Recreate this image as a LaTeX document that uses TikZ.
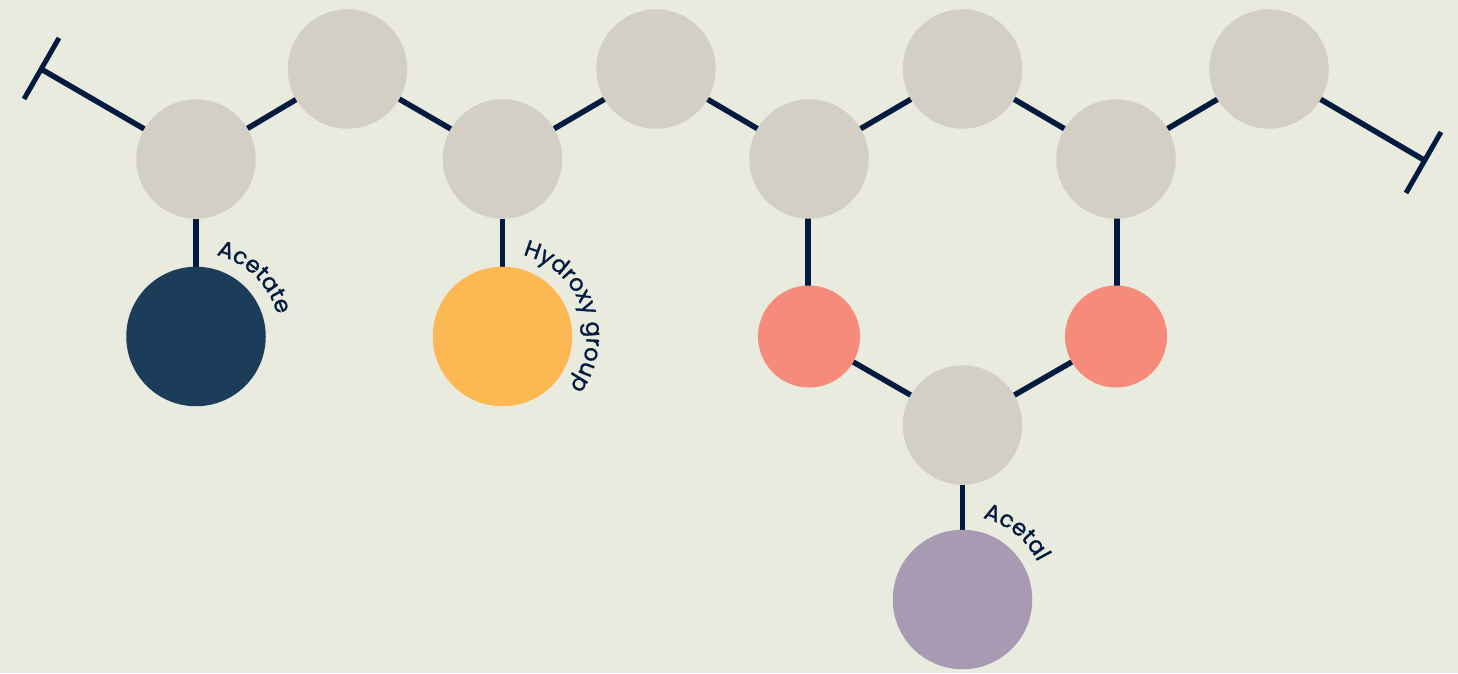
\documentclass[tikz,border=0pt]{standalone}
\usepackage{fontspec}
\usetikzlibrary{backgrounds,decorations.text}
\newfontfamily\labelfont[FakeBold=1.1]{Poppins}
\definecolor{bgc}{HTML}{EAEBDF}
\definecolor{carbon}{HTML}{D4CFC4}
\definecolor{ink}{HTML}{001A40}
\definecolor{acetatec}{HTML}{1C3D5A}
\definecolor{hydroxyc}{HTML}{FDB853}
\definecolor{oxygenc}{HTML}{F68B7B}
\definecolor{acetalc}{HTML}{A79AB2}
\tikzset{
  x=1pt,y=1pt,
  atom/.style={circle,draw=none,inner sep=0pt,outer sep=0pt,minimum size=119.5pt,fill=carbon},
  bigatom/.style={atom,minimum size=139.5pt},
  oxatom/.style={atom,minimum size=102pt,fill=oxygenc},
  bond/.style={draw=ink,line width=5.5pt},
  capline/.style={draw=ink,line width=5pt},
}
\newcommand{\curvetext}[5]{%
  \path[decorate,decoration={text along path,text align=left,
    text={|\labelfont\fontsize{22.8}{23}\selectfont\color{ink}|#5}}]
    (#1) ++(#2:#4) arc[start angle=#2,end angle=#3,radius=#4];}
\begin{document}
\begin{tikzpicture}
\useasboundingbox (0,0) rectangle (1458,673);
% atoms
\node[atom] (c1) at (196,514) {};
\node[atom] (c2) at (347.5,604) {};
\node[atom] (c3) at (502.5,514) {};
\node[atom] (c4) at (656,604) {};
\node[atom] (c5) at (809,514) {};
\node[atom] (c6) at (962.5,604) {};
\node[atom] (c7) at (1116,514) {};
\node[atom] (c8) at (1269,604) {};
\node[atom] (c9) at (962.5,248) {};
\node[bigatom,fill=acetatec] (ac) at (196,336.5) {};
\node[bigatom,fill=hydroxyc] (oh) at (502.5,336.5) {};
\node[oxatom] (o1) at (809,336.5) {};
\node[oxatom] (o2) at (1116,336.5) {};
\node[bigatom,fill=acetalc] (al) at (962.5,73.5) {};
% chain ends
\coordinate (endL) at (41,604);
\coordinate (endLa) at (59,635);
\coordinate (endLb) at (24,574);
\coordinate (endR) at (1424,513);
\coordinate (endRa) at (1441,541);
\coordinate (endRb) at (1406,480);
\begin{scope}[on background layer]
\fill[bgc] (0,0) rectangle (1458,673);
\draw[bond] (endL) -- (c1);
\draw[bond] (c1) -- (c2);
\draw[bond] (c2) -- (c3);
\draw[bond] (c3) -- (c4);
\draw[bond] (c4) -- (c5);
\draw[bond] (c5) -- (c6);
\draw[bond] (c6) -- (c7);
\draw[bond] (c7) -- (c8);
\draw[bond] (c8) -- (endR);
\draw[bond] (c1) -- (ac);
\draw[bond] (c3) -- (oh);
\draw[bond] ([xshift=-1pt]c5.center) -- ([xshift=-1pt]o1.center);
\draw[bond] ([xshift=1pt]c7.center) -- ([xshift=1pt]o2.center);
\draw[bond] (o1) -- (c9);
\draw[bond] (o2) -- (c9);
\draw[bond] (c9) -- (al);
\draw[capline] (endLa) -- (endLb);
\draw[capline] (endRa) -- (endRb);
\end{scope}
% curved labels
\curvetext{ac}{76}{0}{84}{Acetate}
\curvetext{oh}{76}{-60}{84}{Hydroxy group}
\curvetext{al}{76}{0}{84}{Acetal}
\end{tikzpicture}
\end{document}
